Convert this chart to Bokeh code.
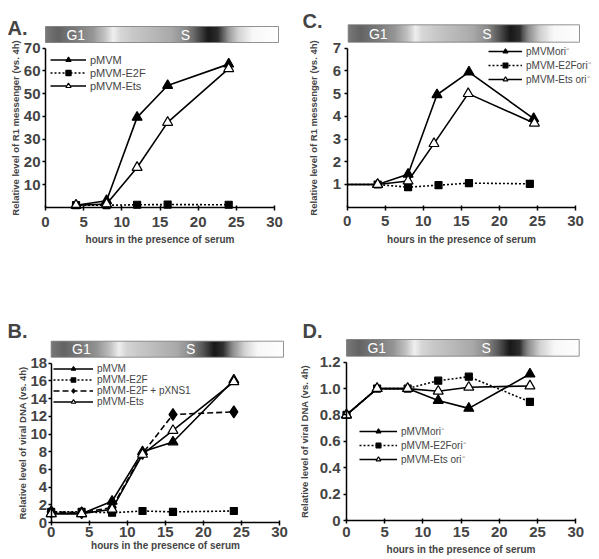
import numpy as np
from bokeh.plotting import figure
from bokeh.layouts import row, column
from bokeh.models import Range1d, LinearAxis, FixedTicker, Legend, LegendItem, Label
from bokeh.embed import file_html
from bokeh.resources import INLINE
from bokeh.core.properties import value

# ---------------- data ----------------
a_hours = [4, 8, 12, 16, 24]
a_pmvm = [1.0, 3.0, 39.6, 53.6, 63.0]
a_e2f = [1.0, 1.0, 1.2, 1.3, 1.2]
a_ets = [1.0, 1.5, 17.6, 37.4, 61.0]

c_hours_mvm = [0, 4, 8, 11.8, 16, 24.5]
c_mvm = [1.0, 1.0, 1.45, 4.95, 5.95, 3.9]
c_hours_e2f = [0, 4, 8, 12, 16, 24]
c_e2f = [1.0, 1.0, 0.88, 0.97, 1.06, 1.03]
c_hours_ets = [0, 4, 8, 11.4, 15.9, 24.6]
c_ets = [1.0, 1.0, 1.15, 2.8, 5.0, 3.7]

b_hours = [0, 4, 8, 12, 16, 24]
b_pmvm = [1.0, 1.0, 2.4, 8.0, 9.1, 16.1]
b_e2f = [1.2, 1.2, 1.1, 1.3, 1.2, 1.3]
b_xns1 = [1.2, 1.1, 1.7, 7.8, 12.2, 12.5]
b_ets = [1.0, 1.0, 1.5, 7.7, 10.4, 15.9]

d_hours = [0, 4, 8, 12, 16, 24]
d_mvm = [0.8, 1.0, 1.0, 0.91, 0.85, 1.11]
d_e2f = [0.8, 1.0, 1.0, 1.06, 1.09, 0.90]
d_ets = [0.8, 1.0, 1.0, 0.98, 1.01, 1.02]

x_ticks = [0, 5, 10, 15, 20, 25, 30]
a_yticks = [10, 20, 30, 40, 50, 60, 70]
c_yticks = [1, 2, 3, 4, 5, 6, 7]
b_yticks = [0, 2, 4, 6, 8, 10, 12, 14, 16, 18]
d_yticks = [0, 0.2, 0.4, 0.6, 0.8, 1.0, 1.2]
d_ylabels = ["0", "0.2", "0.4", "0.6", "0.8", "1.0", "1.2"]

phase_labels = ["G1", "S"]
phase_pos = [0.13, 0.60]
bar_pos = [0.0, 0.05, 0.13, 0.20, 0.25, 0.29, 0.32, 0.38, 0.46, 0.54, 0.60, 0.65, 0.70, 0.74, 0.78, 0.83, 0.89, 1.0]
bar_grey = [120, 100, 125, 150, 190, 240, 215, 200, 185, 170, 140, 90, 25, 45, 140, 210, 248, 255]

FONT = "Liberation Sans"

def gradient_image(n=240):
    f = np.linspace(0, 1, n)
    g = np.interp(f, bar_pos, bar_grey).astype(np.uint8)
    img = np.empty((1, n), dtype=np.uint32)
    v = img.view(dtype=np.uint8).reshape((1, n, 4))
    v[0, :, 0] = g
    v[0, :, 1] = g
    v[0, :, 2] = g
    v[0, :, 3] = 255
    return img

def make_panel(L, letter, ymax, yticks, ylabel, series, ylabel_overrides=None):
    fx, fy, fw, fh = L["fig"]
    ox, oy = L["origin"]
    ppx = (L["x30"] - ox) / 30.0
    ppy = (oy - L["ytop"]) / ymax
    bl, bt, br, bb = L["bar"]
    # the frame covers the whole figure; axes sit at x=0 / y=0 inside it
    p = figure(width=fw, height=fh, output_backend="svg", toolbar_location=None,
               x_range=Range1d((fx - ox) / ppx, (fx + fw - ox) / ppx),
               y_range=Range1d((oy - (fy + fh)) / ppy, (oy - fy) / ppy),
               x_axis_location=None, y_axis_location=None,
               min_border_left=0, min_border_right=0, min_border_top=0, min_border_bottom=0)
    p.grid.visible = False
    p.outline_line_color = None
    p.background_fill_color = "white"
    p.border_fill_color = "white"

    def style(ax):
        ax.axis_line_width = 1.5
        ax.axis_line_color = "black"
        ax.major_tick_line_width = 1.5
        ax.minor_tick_line_color = None
        ax.major_label_text_font = FONT
        ax.major_label_text_font_style = "bold"
        ax.major_label_text_font_size = "15px"
        ax.axis_label_text_font = FONT
        ax.axis_label_text_font_style = "bold"

    xa = LinearAxis(fixed_location=0, bounds=(0, 30), ticker=FixedTicker(ticks=x_ticks),
                    axis_label="hours in the presence of serum")
    style(xa)
    xa.major_tick_in = 2
    xa.major_tick_out = 3
    xa.major_label_standoff = L["xtick_standoff"]
    xa.axis_label_standoff = L["xlab_standoff"]
    xa.axis_label_text_font_size = "10px"
    p.add_layout(xa, "below")

    ya = LinearAxis(fixed_location=0, bounds=(0, ymax), ticker=FixedTicker(ticks=yticks),
                    axis_label=ylabel)
    style(ya)
    ya.major_tick_in = 0
    ya.major_tick_out = 3
    ya.major_label_standoff = L["ytick_standoff"]
    ya.axis_label_standoff = L["ylab_standoff"]
    ya.axis_label_text_font_size = "9.5px"
    if ylabel_overrides:
        ya.major_label_overrides = ylabel_overrides
    p.add_layout(ya, "left")

    # cell-cycle gradient bar
    x0b, x1b = (bl - ox) / ppx, (br - ox) / ppx
    y0b, y1b = (oy - bb) / ppy, (oy - bt) / ppy
    p.image_rgba(image=[gradient_image()], x=x0b, y=y0b, dw=x1b - x0b, dh=y1b - y0b)
    p.quad(left=[x0b], right=[x1b], bottom=[y0b], top=[y1b], fill_color=None,
           line_color="#777777", line_width=0.8)
    p.text(x=[x0b + f * (x1b - x0b) for f in phase_pos], y=[(y0b + y1b) / 2] * 2, text=phase_labels,
           text_color="white", text_font=value(FONT), text_font_size="14px",
           text_align="center", text_baseline="middle")

    items = []
    for s in series:
        xs, ys = s["x"], s["y"]
        lr = p.line(xs, ys, line_color="black", line_width=1.6, line_dash=s["dash"])
        mx = [x for x in xs if x > 0] if s.get("skip0") else xs
        my = [y for x, y in zip(xs, ys) if x > 0] if s.get("skip0") else ys
        sr = p.scatter(mx, my, marker=s["marker"], size=s["size"], fill_color=s["fill"],
                       line_color="black", line_width=1.2)
        items.append(LegendItem(label=s["label"], renderers=[lr, sr]))

    gl, gt = L["legend"]
    rh = L["row_h"]
    n = len(items)
    leg = Legend(items=items, location=(int(round(gl - fx)), int(round(fy + fh - gt - n * rh))),
                 border_line_color=None, background_fill_alpha=0, padding=0, margin=0,
                 spacing=0, label_standoff=4, glyph_width=L["glyph_w"], glyph_height=rh,
                 label_height=rh, label_text_font=FONT, label_text_font_size=L["leg_font"])
    p.add_layout(leg)

    lx, ly = L["letter"]
    p.add_layout(Label(x=(lx - ox) / ppx, y=(oy - ly) / ppy, text=letter, text_font=FONT,
                       text_font_style="bold", text_font_size="20px", text_baseline="alphabetic"))
    return p

LA = dict(fig=(0, 0, 300, 290), origin=(45, 207), x30=274, ytop=47.7, bar=(45, 26, 278, 42),
          letter=(7, 27), legend=(50, 52.5), glyph_w=36, row_h=13, leg_font="11px",
          ytick_standoff=2, ylab_standoff=0, xtick_standoff=6, xlab_standoff=4)
LC = dict(fig=(300, 0, 299, 290), origin=(346.7, 206.7), x30=575, ytop=47.7, bar=(347.7, 24.3, 579, 41.7),
          letter=(302, 20), legend=(488, 50), glyph_w=34, row_h=12, leg_font="10px",
          ytick_standoff=3, ylab_standoff=11, xtick_standoff=6, xlab_standoff=4)
LB = dict(fig=(0, 290, 300, 269), origin=(50.7, 522), x30=279, ytop=362.7, bar=(50.7, 340.7, 283, 356.7),
          letter=(7, 330), legend=(53, 363.5), glyph_w=40, row_h=11, leg_font="10px",
          ytick_standoff=1, ylab_standoff=0, xtick_standoff=1, xlab_standoff=0)
LD = dict(fig=(300, 290, 299, 269), origin=(346, 520), x30=575.3, ytop=361.7, bar=(346, 339, 578.7, 355.7),
          letter=(302, 330), legend=(359, 430), glyph_w=38, row_h=12, leg_font="10px",
          ytick_standoff=3, ylab_standoff=7, xtick_standoff=3, xlab_standoff=4)

R1 = "Relative level of R1 messenger (vs. 4h)"
VD = "Relative level of viral DNA (vs. 4h)"

pA = make_panel(LA, "A.", 70, a_yticks, R1, [
    dict(x=a_hours, y=a_pmvm, dash="solid", marker="triangle", size=10, fill="black", label="pMVM"),
    dict(x=a_hours, y=a_e2f, dash="2 2", marker="square", size=7, fill="black", label="pMVM-E2F"),
    dict(x=a_hours, y=a_ets, dash="solid", marker="triangle", size=10, fill="white", label="pMVM-Ets"),
])

pC = make_panel(LC, "C.", 7, c_yticks, R1, [
    dict(x=c_hours_mvm, y=c_mvm, dash="solid", marker="triangle", size=10, fill="black", label="pMVMori\u207b", skip0=True),
    dict(x=c_hours_e2f, y=c_e2f, dash="2 2", marker="square", size=7, fill="black", label="pMVM-E2Fori\u207b", skip0=True),
    dict(x=c_hours_ets, y=c_ets, dash="solid", marker="triangle", size=10, fill="white", label="pMVM-Ets ori\u207b", skip0=True),
])

pB = make_panel(LB, "B.", 18, b_yticks, VD, [
    dict(x=b_hours, y=b_pmvm, dash="solid", marker="triangle", size=10, fill="black", label="pMVM"),
    dict(x=b_hours, y=b_e2f, dash="2 2", marker="square", size=7, fill="black", label="pMVM-E2F"),
    dict(x=b_hours, y=b_xns1, dash="6 3", marker="diamond", size=12, fill="black", label="pMVM-E2F + pXNS1"),
    dict(x=b_hours, y=b_ets, dash="solid", marker="triangle", size=10, fill="white", label="pMVM-Ets"),
])

pD = make_panel(LD, "D.", 1.2, d_yticks, VD, [
    dict(x=d_hours, y=d_mvm, dash="solid", marker="triangle", size=10, fill="black", label="pMVMori\u207b"),
    dict(x=d_hours, y=d_e2f, dash="2 2", marker="square", size=7, fill="black", label="pMVM-E2Fori\u207b"),
    dict(x=d_hours, y=d_ets, dash="solid", marker="triangle", size=10, fill="white", label="pMVM-Ets ori\u207b"),
], ylabel_overrides={t: s for t, s in zip(d_yticks, d_ylabels)})

layout = column(row(pA, pC), row(pB, pD))
open("out.html", "w").write(file_html(layout, INLINE))
